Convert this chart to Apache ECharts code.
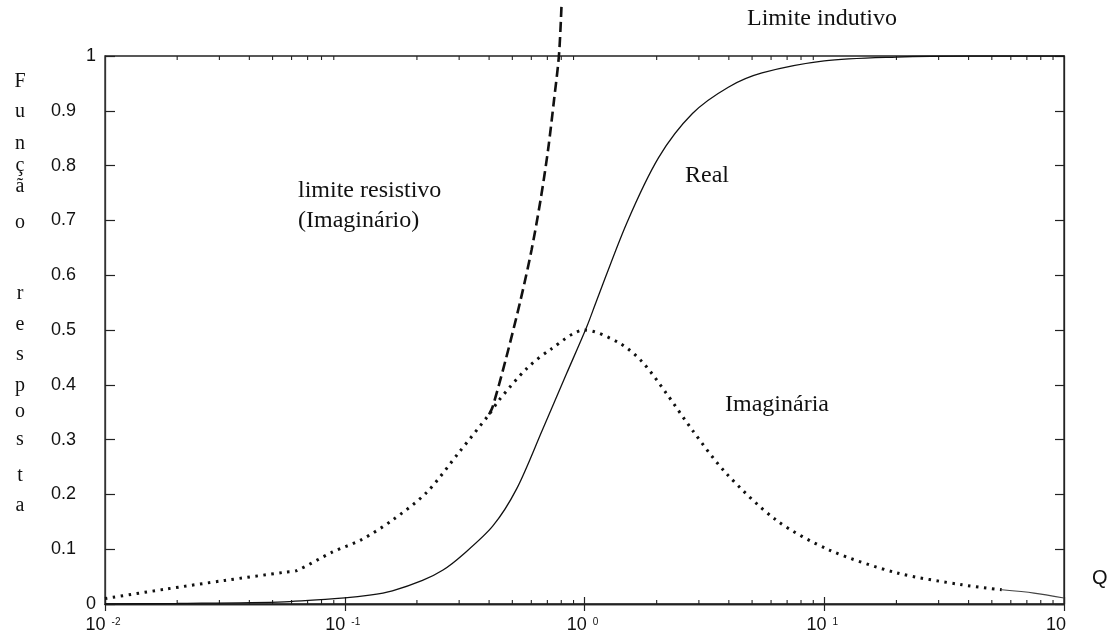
<!DOCTYPE html>
<html><head><meta charset="utf-8">
<script src="https://cdn.jsdelivr.net/npm/echarts@6/dist/echarts.min.js"></script>
<style>html,body{margin:0;padding:0;background:#fff}#c{width:1110px;height:636px}</style>
</head><body><div id="c"></div>
<script>
// ---- data ----
const realQ = [0.01, 0.02, 0.056, 0.1, 0.127, 0.158, 0.211, 0.257, 0.309, 0.414, 0.521, 0.668, 0.841, 1.02, 1.12, 1.5, 2.04, 2.82, 3.98, 5.5, 10, 20, 40, 100];
const realY = [0.0, 0.001, 0.004, 0.011, 0.016, 0.024, 0.043, 0.062, 0.089, 0.142, 0.21, 0.318, 0.42, 0.505, 0.552, 0.695, 0.815, 0.895, 0.943, 0.969, 0.991, 0.998, 1.0, 1.0];

const imagQ = [0.01, 0.0178, 0.0316, 0.0562, 0.063, 0.089, 0.117, 0.158, 0.219, 0.30, 0.40, 0.44, 0.575, 0.729, 1.0, 1.40, 1.74, 2.19, 2.82, 3.89, 6.31, 10.5, 20, 37.6, 55];
const imagY = [0.010, 0.027, 0.043, 0.058, 0.061, 0.095, 0.117, 0.153, 0.203, 0.277, 0.346, 0.372, 0.43, 0.466, 0.5, 0.476, 0.442, 0.385, 0.317, 0.239, 0.153, 0.0985, 0.057, 0.035, 0.026];

const tailQ = [55, 75, 100];
const tailY = [0.026, 0.02, 0.011];

const resistQ = [0.40, 0.4137, 0.4688, 0.5412, 0.6013, 0.6556, 0.7046, 0.7463, 0.7827, 0.8021];
const resistY = [0.346, 0.3595, 0.4453, 0.5547, 0.646, 0.7372, 0.8285, 0.9197, 1.0018, 1.0931];

const xBase = '10';
const xExponents = {'-2': '-2', '-1': '-1', '0': '0', '1': '1', '2': ''};
const decades = [0.01, 0.1, 1, 10];
const minorMultipliers = [2, 3, 4, 5, 6, 7, 8, 9];

const yTitleLetters = ['F','u','n','ç','ã','o','r','e','s','p','o','s','t','a'];
const yTitleRows = [82, 112, 144, 166, 187, 223, 294, 325, 355, 386, 412, 440, 476, 506];

const annotations = [
  {text: 'Limite indutivo', x: 747, y: 19},
  {text: 'limite resistivo', x: 298, y: 191},
  {text: '(Imaginário)', x: 298, y: 221},
  {text: 'Real', x: 685, y: 176},
  {text: 'Imaginária', x: 725, y: 405}
];

// ---- build ----
const pairs = (a, b) => a.map((q, i) => [q, b[i]]);
const minorTicks = [];
decades.forEach(d => minorMultipliers.forEach(m => minorTicks.push([m * d, 0])));

const INK = '#111';
const serif = 'Liberation Serif';
const sans = 'Liberation Sans';

const graphics = [];
yTitleLetters.forEach((ch, i) => graphics.push({
  type: 'text', x: 20, y: yTitleRows[i],
  style: {text: ch, font: '20px "' + serif + '"', fill: INK, align: 'center', verticalAlign: 'middle'}
}));
annotations.forEach(a => graphics.push({
  type: 'text', x: a.x, y: a.y,
  style: {text: a.text, font: '24px "' + serif + '"', fill: INK, align: 'left', verticalAlign: 'middle'}
}));
graphics.push({type: 'text', x: 1092, y: 578,
  style: {text: 'Q', font: '20px "' + sans + '"', fill: INK, align: 'left', verticalAlign: 'middle'}});

const chart = echarts.init(document.getElementById('c'), null, {renderer: 'canvas'});
chart.setOption({
  animation: false,
  backgroundColor: '#fff',
  grid: {left: 105, right: 46, top: 56, bottom: 32, containLabel: false, outerBoundsMode: 'none',
         show: true, borderColor: '#222', borderWidth: 1.3},
  xAxis: [{
    type: 'log', logBase: 10, min: 0.01, max: 100, position: 'bottom',
    axisLine: {show: true, lineStyle: {color: '#222', width: 1.3}},
    axisTick: {show: true, inside: true, length: 7, lineStyle: {color: '#222', width: 1.2}},
    splitLine: {show: false},
    axisLabel: {
      margin: 11, color: INK,
      formatter: v => {
        const e = String(Math.round(Math.log10(v)));
        const s = xExponents[e];
        if (s === '') return '{c|' + xBase + '}';
        return '{b|' + xBase + '}{s|' + s + '}';
      },
      rich: {
        b: {fontFamily: sans, fontSize: 18, color: INK, lineHeight: 20},
        c: {fontFamily: sans, fontSize: 18, color: INK, lineHeight: 20, padding: [0, 16, 0, 0]},
        s: {fontFamily: sans, fontSize: 10, color: INK, verticalAlign: 'top', padding: [2, 4, 0, 6], lineHeight: 20}
      }
    }
  }, {
    type: 'log', logBase: 10, min: 0.01, max: 100, position: 'top',
    axisLine: {show: true, lineStyle: {color: '#222', width: 1.3}},
    axisTick: {show: true, inside: true, length: 7, lineStyle: {color: '#222', width: 1.2}},
    axisLabel: {show: false}, splitLine: {show: false}
  }],
  yAxis: [{
    type: 'value', min: 0, max: 1, interval: 0.1, position: 'left',
    axisLine: {show: true, lineStyle: {color: '#333', width: 1.3}},
    axisTick: {show: true, inside: true, length: 10, lineStyle: {color: '#222', width: 1.2}},
    splitLine: {show: false},
    axisLabel: {
      margin: 9, color: INK,
      formatter: v => (v === 0 || v === 1) ? '{a|' + v + '}' : '{d|' + v.toFixed(1) + '}',
      rich: {
        a: {fontFamily: sans, fontSize: 18, color: INK},
        d: {fontFamily: sans, fontSize: 18, color: INK, padding: [0, 20, 0, 0]}
      }
    }
  }, {
    type: 'value', min: 0, max: 1, interval: 0.1, position: 'right',
    axisLine: {show: true, lineStyle: {color: '#222', width: 1.3}},
    axisTick: {show: true, inside: true, length: 9, lineStyle: {color: '#222', width: 1.2}},
    axisLabel: {show: false}, splitLine: {show: false}
  }],
  graphic: graphics,
  series: [
    {
      name: 'Real', type: 'line', xAxisIndex: 0, yAxisIndex: 0,
      data: pairs(realQ, realY), showSymbol: false, symbol: 'none', smooth: 0.3,
      lineStyle: {color: '#111', width: 1.3, type: 'solid'}
    },
    {
      name: 'Imaginária', type: 'line', xAxisIndex: 0, yAxisIndex: 0,
      data: pairs(imagQ, imagY), showSymbol: false, symbol: 'none', smooth: 0.3,
      lineStyle: {color: '#111', width: 3, type: [2.5, 5.5], cap: 'butt'}
    },
    {
      name: 'tail', type: 'line', xAxisIndex: 0, yAxisIndex: 0,
      data: pairs(tailQ, tailY), showSymbol: false, symbol: 'none', smooth: 0.3,
      lineStyle: {color: '#444', width: 1.2, type: 'solid'}
    },
    {
      name: 'limite resistivo', type: 'line', xAxisIndex: 0, yAxisIndex: 0, clip: false,
      data: pairs(resistQ, resistY), showSymbol: false, symbol: 'none', smooth: 0.3,
      lineStyle: {color: '#111', width: 2.6, type: [10, 5], cap: 'butt'}
    },
    {
      name: 'minorTicks', type: 'custom', xAxisIndex: 0, yAxisIndex: 0, silent: true,
      data: minorTicks,
      renderItem: (params, api) => {
        const v = api.value(0);
        const b = api.coord([v, 0]);
        const t = api.coord([v, 1]);
        const st = {stroke: '#222', lineWidth: 1.1};
        return {type: 'group', children: [
          {type: 'line', shape: {x1: b[0], y1: b[1], x2: b[0], y2: b[1] - 4}, style: st},
          {type: 'line', shape: {x1: t[0], y1: t[1], x2: t[0], y2: t[1] + 4}, style: st}
        ]};
      }
    }
  ]
});
</script>
</body></html>
